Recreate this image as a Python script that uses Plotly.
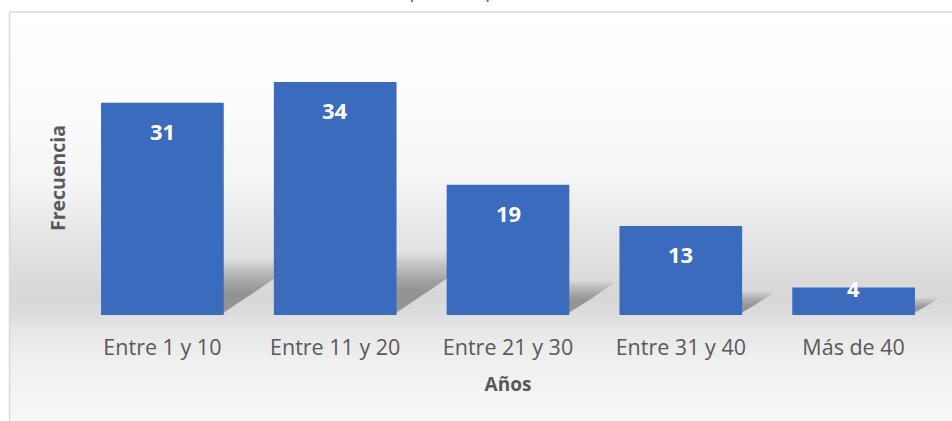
import plotly.graph_objects as go

categories = ["Entre 1 y 10", "Entre 11 y 20", "Entre 21 y 30", "Entre 31 y 40", "Más de 40"]
frecuencia = [31, 34, 19, 13, 4]
title_text = "Tiempo de experiencia docente"
x_title = "Años"
y_title = "Frecuencia"

W, H = 952, 421
ML, MR, MT, MB = 75.5, 12, 41, 106
plot_w = W - ML - MR
plot_h = H - MT - MB
Y_MAX = 40
BAR_W = 0.71


def px_to_py(py):
    return (H - MB - py) / plot_h


def px_to_px(px):
    return (px - ML) / plot_w


# background gradient stops (pixel y, gray level)
stops = [(12, 255), (100, 252), (180, 245), (230, 231), (297, 215), (315, 221),
         (330, 231), (360, 239), (421, 248)]


def gray_at(py):
    for (y0, g0), (y1, g1) in zip(stops, stops[1:]):
        if y0 <= py <= y1:
            t = (py - y0) / (y1 - y0)
            return g0 + (g1 - g0) * t
    return stops[-1][1]


shapes = []
step = 3
py = 12
while py < H:
    g = int(round(gray_at(py + step / 2)))
    shapes.append(dict(type="rect", xref="paper", yref="paper",
                       x0=px_to_px(9), x1=px_to_px(W + 5),
                       y0=px_to_py(py + step + 0.5), y1=px_to_py(py),
                       line=dict(width=0), fillcolor=f"rgb({g},{g},{g})", layer="below"))
    py += step

# frame lines (left and top)
shapes.append(dict(type="line", xref="paper", yref="paper",
                   x0=px_to_px(9), x1=px_to_px(9), y0=px_to_py(H + 5), y1=px_to_py(12),
                   line=dict(color="#d9d9d9", width=1.5), layer="below"))
shapes.append(dict(type="line", xref="paper", yref="paper",
                   x0=px_to_px(9), x1=px_to_px(W + 5), y0=px_to_py(12), y1=px_to_py(12),
                   line=dict(color="#d9d9d9", width=1.5), layer="below"))

# soft cast shadows behind each bar (derived from the bar values)
px_per_unit = plot_h / Y_MAX
px_per_cat = plot_w / len(categories)
n_layers = 14
for i, v in enumerate(frecuencia):
    hs_full = max(0.25 * v, 2.4)
    for k in range(n_layers):
        frac = 1.05 - 0.6 * k / (n_layers - 1)
        hs = hs_full * frac
        dx = 1.4 * hs * px_per_unit / px_per_cat
        xl = i - BAR_W / 2
        xr = i + BAR_W / 2
        lift = 0.25 + 0.02 * k
        path = (f"M {xl} {lift} L {xr} {lift} L {xr + dx} {hs} L {xl + dx} {hs} Z")
        shapes.append(dict(type="path", xref="x", yref="y", path=path,
                           fillcolor="rgba(70,70,70,0.035)", line=dict(width=0),
                           layer="below"))

fig = go.Figure()
fig.add_trace(go.Bar(
    x=categories, y=frecuencia,
    marker=dict(color="#3b6bbd", line=dict(width=0)),
    width=BAR_W,
    hoverinfo="x+y",
))

annotations = []
for c, v in zip(categories, frecuencia):
    annotations.append(dict(
        x=c, y=v, xref="x", yref="y", text=f"<b>{v}</b>", showarrow=False,
        yanchor="middle", yshift=-28 if v > 6 else 0,
        font=dict(family="Open Sans", size=22, color="white"),
    ))

annotations.append(dict(
    x=px_to_px(505), y=px_to_py(5.5), xref="paper", yref="paper",
    text=title_text, showarrow=False, xanchor="center", yanchor="bottom",
    font=dict(family="Open Sans", size=19, color="#595959"),
))

fig.update_layout(
    width=W, height=H,
    margin=dict(l=ML, r=MR, t=MT, b=MB),
    paper_bgcolor="white",
    plot_bgcolor="rgba(0,0,0,0)",
    showlegend=False,
    shapes=shapes,
    annotations=annotations,
    xaxis=dict(
        range=[-0.5, 4.5], showgrid=False, zeroline=False, showline=False,
        ticks="", ticklabelstandoff=17,
        tickfont=dict(family="Open Sans", size=21.5, color="#595959"),
        title=dict(text=f"<b>{x_title}</b>", standoff=18,
                   font=dict(family="Open Sans", size=19, color="#595959")),
    ),
    yaxis=dict(
        range=[0, Y_MAX], showgrid=False, zeroline=False, showline=False,
        showticklabels=False, ticks="",
        title=dict(text=f"<b>{y_title}</b>", standoff=4,
                   font=dict(family="Open Sans", size=19.5, color="#595959")),
    ),
)

fig.write_html("out.html", config={"displayModeBar": False},
               post_script="document.body.style.margin='0';")
